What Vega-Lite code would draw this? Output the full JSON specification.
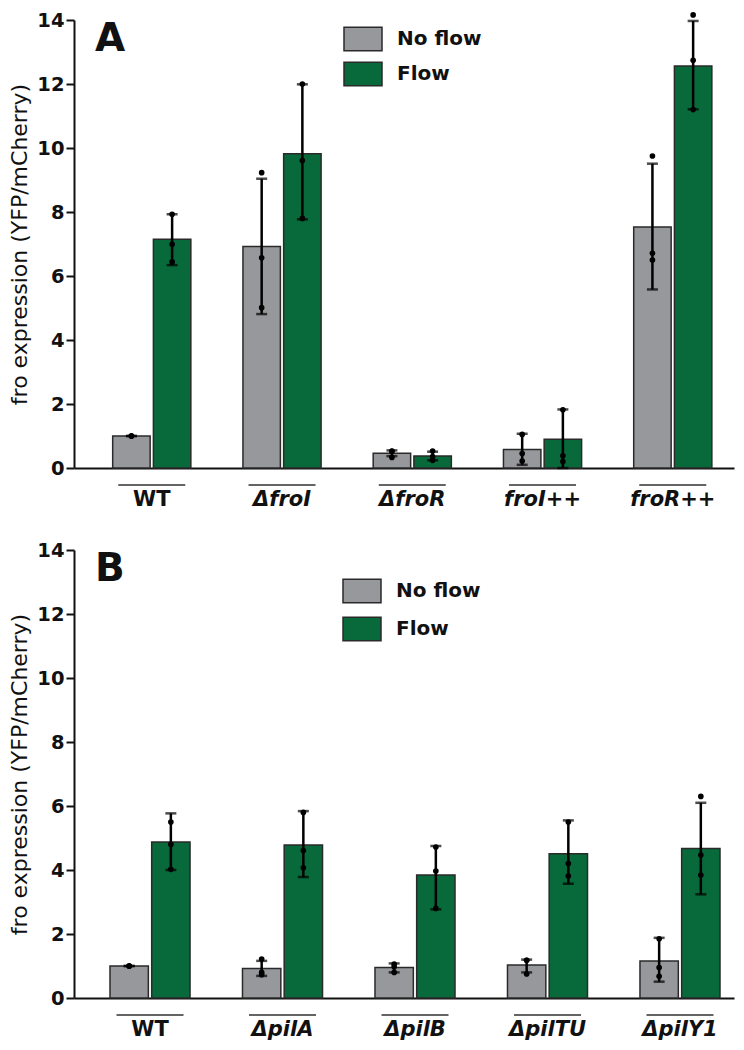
{
  "$schema": "https://vega.github.io/schema/vega-lite/v6.json",
  "background": "white",
  "padding": {"left": 8, "top": 10, "right": 5, "bottom": 5},
  "spacing": 31,
  "datasets": {
    "bars": [
      {"panel": "A", "strain": "WT", "cond": "No flow", "mean": 1.0, "lo": 1.0, "hi": 1.0},
      {"panel": "A", "strain": "WT", "cond": "Flow", "mean": 7.15, "lo": 6.34, "hi": 7.93},
      {"panel": "A", "strain": "ΔfroI", "cond": "No flow", "mean": 6.92, "lo": 4.81, "hi": 9.04},
      {"panel": "A", "strain": "ΔfroI", "cond": "Flow", "mean": 9.82, "lo": 7.77, "hi": 11.99},
      {"panel": "A", "strain": "ΔfroR", "cond": "No flow", "mean": 0.46, "lo": 0.37, "hi": 0.55},
      {"panel": "A", "strain": "ΔfroR", "cond": "Flow", "mean": 0.375, "lo": 0.24, "hi": 0.51},
      {"panel": "A", "strain": "froI++", "cond": "No flow", "mean": 0.58, "lo": 0.1, "hi": 1.07},
      {"panel": "A", "strain": "froI++", "cond": "Flow", "mean": 0.9, "lo": 0.0, "hi": 1.83},
      {"panel": "A", "strain": "froR++", "cond": "No flow", "mean": 7.53, "lo": 5.58, "hi": 9.51},
      {"panel": "A", "strain": "froR++", "cond": "Flow", "mean": 12.56, "lo": 11.21, "hi": 13.97},
      {"panel": "B", "strain": "WT", "cond": "No flow", "mean": 1.0, "lo": 1.0, "hi": 1.0},
      {"panel": "B", "strain": "WT", "cond": "Flow", "mean": 4.875, "lo": 4.0, "hi": 5.77},
      {"panel": "B", "strain": "ΔpilA", "cond": "No flow", "mean": 0.92, "lo": 0.69, "hi": 1.16},
      {"panel": "B", "strain": "ΔpilA", "cond": "Flow", "mean": 4.78, "lo": 3.78, "hi": 5.84},
      {"panel": "B", "strain": "ΔpilB", "cond": "No flow", "mean": 0.95, "lo": 0.8, "hi": 1.08},
      {"panel": "B", "strain": "ΔpilB", "cond": "Flow", "mean": 3.84, "lo": 2.77, "hi": 4.75},
      {"panel": "B", "strain": "ΔpilTU", "cond": "No flow", "mean": 1.03, "lo": 0.8, "hi": 1.2},
      {"panel": "B", "strain": "ΔpilTU", "cond": "Flow", "mean": 4.51, "lo": 3.57, "hi": 5.55},
      {"panel": "B", "strain": "ΔpilY1", "cond": "No flow", "mean": 1.16, "lo": 0.51, "hi": 1.88},
      {"panel": "B", "strain": "ΔpilY1", "cond": "Flow", "mean": 4.67, "lo": 3.24, "hi": 6.1}
    ],
    "points": [
      {"panel": "A", "strain": "WT", "cond": "No flow", "value": 1.0},
      {"panel": "A", "strain": "WT", "cond": "No flow", "value": 1.0},
      {"panel": "A", "strain": "WT", "cond": "No flow", "value": 1.0},
      {"panel": "A", "strain": "WT", "cond": "Flow", "value": 7.93},
      {"panel": "A", "strain": "WT", "cond": "Flow", "value": 6.99},
      {"panel": "A", "strain": "WT", "cond": "Flow", "value": 6.44},
      {"panel": "A", "strain": "ΔfroI", "cond": "No flow", "value": 9.23},
      {"panel": "A", "strain": "ΔfroI", "cond": "No flow", "value": 6.57},
      {"panel": "A", "strain": "ΔfroI", "cond": "No flow", "value": 5.01},
      {"panel": "A", "strain": "ΔfroI", "cond": "Flow", "value": 12.0},
      {"panel": "A", "strain": "ΔfroI", "cond": "Flow", "value": 9.61},
      {"panel": "A", "strain": "ΔfroI", "cond": "Flow", "value": 7.8},
      {"panel": "A", "strain": "ΔfroR", "cond": "No flow", "value": 0.53},
      {"panel": "A", "strain": "ΔfroR", "cond": "No flow", "value": 0.52},
      {"panel": "A", "strain": "ΔfroR", "cond": "No flow", "value": 0.33},
      {"panel": "A", "strain": "ΔfroR", "cond": "Flow", "value": 0.53},
      {"panel": "A", "strain": "ΔfroR", "cond": "Flow", "value": 0.36},
      {"panel": "A", "strain": "ΔfroR", "cond": "Flow", "value": 0.24},
      {"panel": "A", "strain": "froI++", "cond": "No flow", "value": 1.05},
      {"panel": "A", "strain": "froI++", "cond": "No flow", "value": 0.45},
      {"panel": "A", "strain": "froI++", "cond": "No flow", "value": 0.22},
      {"panel": "A", "strain": "froI++", "cond": "Flow", "value": 1.82},
      {"panel": "A", "strain": "froI++", "cond": "Flow", "value": 0.38},
      {"panel": "A", "strain": "froI++", "cond": "Flow", "value": 0.2},
      {"panel": "A", "strain": "froR++", "cond": "No flow", "value": 9.75},
      {"panel": "A", "strain": "froR++", "cond": "No flow", "value": 6.71},
      {"panel": "A", "strain": "froR++", "cond": "No flow", "value": 6.5},
      {"panel": "A", "strain": "froR++", "cond": "Flow", "value": 14.16},
      {"panel": "A", "strain": "froR++", "cond": "Flow", "value": 12.74},
      {"panel": "A", "strain": "froR++", "cond": "Flow", "value": 11.2},
      {"panel": "B", "strain": "WT", "cond": "No flow", "value": 1.0},
      {"panel": "B", "strain": "WT", "cond": "No flow", "value": 1.0},
      {"panel": "B", "strain": "WT", "cond": "No flow", "value": 1.0},
      {"panel": "B", "strain": "WT", "cond": "Flow", "value": 5.5},
      {"panel": "B", "strain": "WT", "cond": "Flow", "value": 4.8},
      {"panel": "B", "strain": "WT", "cond": "Flow", "value": 4.02},
      {"panel": "B", "strain": "ΔpilA", "cond": "No flow", "value": 1.22},
      {"panel": "B", "strain": "ΔpilA", "cond": "No flow", "value": 0.8},
      {"panel": "B", "strain": "ΔpilA", "cond": "No flow", "value": 0.73},
      {"panel": "B", "strain": "ΔpilA", "cond": "Flow", "value": 5.8},
      {"panel": "B", "strain": "ΔpilA", "cond": "Flow", "value": 4.61},
      {"panel": "B", "strain": "ΔpilA", "cond": "Flow", "value": 4.07},
      {"panel": "B", "strain": "ΔpilB", "cond": "No flow", "value": 1.06},
      {"panel": "B", "strain": "ΔpilB", "cond": "No flow", "value": 0.98},
      {"panel": "B", "strain": "ΔpilB", "cond": "No flow", "value": 0.8},
      {"panel": "B", "strain": "ΔpilB", "cond": "Flow", "value": 4.72},
      {"panel": "B", "strain": "ΔpilB", "cond": "Flow", "value": 3.97},
      {"panel": "B", "strain": "ΔpilB", "cond": "Flow", "value": 2.8},
      {"panel": "B", "strain": "ΔpilTU", "cond": "No flow", "value": 1.18},
      {"panel": "B", "strain": "ΔpilTU", "cond": "No flow", "value": 1.18},
      {"panel": "B", "strain": "ΔpilTU", "cond": "No flow", "value": 0.75},
      {"panel": "B", "strain": "ΔpilTU", "cond": "Flow", "value": 5.5},
      {"panel": "B", "strain": "ΔpilTU", "cond": "Flow", "value": 4.2},
      {"panel": "B", "strain": "ΔpilTU", "cond": "Flow", "value": 3.81},
      {"panel": "B", "strain": "ΔpilY1", "cond": "No flow", "value": 1.85},
      {"panel": "B", "strain": "ΔpilY1", "cond": "No flow", "value": 0.95},
      {"panel": "B", "strain": "ΔpilY1", "cond": "No flow", "value": 0.68},
      {"panel": "B", "strain": "ΔpilY1", "cond": "Flow", "value": 6.3},
      {"panel": "B", "strain": "ΔpilY1", "cond": "Flow", "value": 4.47},
      {"panel": "B", "strain": "ΔpilY1", "cond": "Flow", "value": 3.84}
    ]
  },
  "config": {
    "view": {"stroke": null},
    "font": "DejaVu Sans",
    "axis": {
      "grid": false,
      "domainColor": "#111111",
      "domainWidth": 2,
      "tickColor": "#111111",
      "tickWidth": 2,
      "labelColor": "#111111",
      "labelFont": "DejaVu Sans",
      "labelFontWeight": "bold",
      "titleColor": "#111111",
      "titleFont": "DejaVu Sans"
    },
    "axisY": {
      "tickSize": 8,
      "labelFontSize": 19.5,
      "labelPadding": 2,
      "titleFontSize": 22,
      "titleFontWeight": "normal",
      "titlePadding": 5
    },
    "axisX": {
      "title": null,
      "ticks": false,
      "tickSize": 0,
      "labelAngle": 0,
      "labelFontSize": 21,
      "labelPadding": 20,
      "labelFontStyle": {"condition": {"test": "datum.value === 'WT'", "value": "normal"}, "value": "italic"}
    },
    "legend": {
      "orient": "none",
      "title": null,
      "symbolType": "M-1,-0.62H1V0.62H-1Z",
      "symbolSize": 1444,
      "symbolStrokeColor": "#2a2a2a",
      "symbolStrokeWidth": 1.5,
      "labelFont": "DejaVu Sans",
      "labelFontWeight": "bold",
      "labelFontSize": 20,
      "labelColor": "#111111",
      "labelOffset": 14
    },
    "title": {"anchor": "start", "frame": "group", "font": "DejaVu Sans", "fontSize": 39, "fontWeight": "bold", "color": "#111111"}
  },
  "resolve": {"scale": {"x": "independent", "xOffset": "independent", "color": "independent", "y": "independent"}, "legend": {"color": "independent"}},
  "vconcat": [
    {
      "width": 660,
      "height": 448,
      "title": {"text": "A", "offset": -49, "dx": 21},
      "encoding": {
        "x": {"field": "strain", "type": "nominal", "sort": ["WT", "ΔfroI", "ΔfroR", "froI++", "froR++"], "scale": {"paddingInner": 0.4, "paddingOuter": 0.2335, "align": 0.636}}
      },
      "layer": [
        {
          "data": {"name": "bars"},
          "transform": [{"filter": "datum.panel === 'A'"}],
          "mark": {"type": "bar", "stroke": "#2a2a2a", "strokeWidth": 1.5},
          "encoding": {
            "xOffset": {"field": "cond", "type": "nominal", "sort": ["No flow", "Flow"], "scale": {"paddingInner": 0.08}},
            "y": {"field": "mean", "type": "quantitative", "title": "fro expression (YFP/mCherry)", "scale": {"domain": [0, 14], "nice": false}, "axis": {"values": [0, 2, 4, 6, 8, 10, 12, 14]}},
            "color": {"field": "cond", "type": "nominal", "sort": ["No flow", "Flow"], "scale": {"domain": ["No flow", "Flow"], "range": ["#97989c", "#086a3a"]}, "legend": {"legendX": 269, "legendY": -1, "rowPadding": -5}}
          }
        },
        {
          "data": {"name": "bars"},
          "transform": [{"filter": "datum.panel === 'A'"}],
          "mark": {"type": "rule", "color": "#000000", "strokeWidth": 2.5},
          "encoding": {
            "xOffset": {"field": "cond", "type": "nominal", "sort": ["No flow", "Flow"]},
            "y": {"field": "lo", "type": "quantitative", "title": "fro expression (YFP/mCherry)"},
            "y2": {"field": "hi"}
          }
        },
        {
          "data": {"name": "bars"},
          "transform": [{"filter": "datum.panel === 'A'"}],
          "mark": {"type": "tick", "color": "#000000", "thickness": 2.5, "size": 11},
          "encoding": {
            "xOffset": {"field": "cond", "type": "nominal", "sort": ["No flow", "Flow"]},
            "y": {"field": "lo", "type": "quantitative", "title": "fro expression (YFP/mCherry)"}
          }
        },
        {
          "data": {"name": "bars"},
          "transform": [{"filter": "datum.panel === 'A'"}],
          "mark": {"type": "tick", "color": "#000000", "thickness": 2.5, "size": 11},
          "encoding": {
            "xOffset": {"field": "cond", "type": "nominal", "sort": ["No flow", "Flow"]},
            "y": {"field": "hi", "type": "quantitative", "title": "fro expression (YFP/mCherry)"}
          }
        },
        {
          "data": {"name": "points"},
          "transform": [{"filter": "datum.panel === 'A'"}],
          "mark": {"type": "circle", "color": "#000000", "size": 32, "opacity": 1},
          "encoding": {
            "xOffset": {"field": "cond", "type": "nominal", "sort": ["No flow", "Flow"]},
            "y": {"field": "value", "type": "quantitative", "title": "fro expression (YFP/mCherry)"}
          }
        },
        {
          "data": {"name": "bars"},
          "transform": [{"filter": "datum.panel === 'A' && datum.cond === 'No flow'"}],
          "mark": {"type": "tick", "color": "#222222", "thickness": 2, "size": 67},
          "encoding": {
            "y": {"datum": -0.53, "type": "quantitative", "title": "fro expression (YFP/mCherry)"}
          }
        }
      ]
    },
    {
      "width": 660,
      "height": 448,
      "title": {"text": "B", "offset": -49, "dx": 21},
      "encoding": {
        "x": {"field": "strain", "type": "nominal", "sort": ["WT", "ΔpilA", "ΔpilB", "ΔpilTU", "ΔpilY1"], "scale": {"paddingInner": 0.396, "paddingOuter": 0.1887, "align": 0.72}}
      },
      "layer": [
        {
          "data": {"name": "bars"},
          "transform": [{"filter": "datum.panel === 'B'"}],
          "mark": {"type": "bar", "stroke": "#2a2a2a", "strokeWidth": 1.5},
          "encoding": {
            "xOffset": {"field": "cond", "type": "nominal", "sort": ["No flow", "Flow"], "scale": {"paddingInner": 0.08}},
            "y": {"field": "mean", "type": "quantitative", "title": "fro expression (YFP/mCherry)", "scale": {"domain": [0, 14], "nice": false}, "axis": {"values": [0, 2, 4, 6, 8, 10, 12, 14]}},
            "color": {"field": "cond", "type": "nominal", "sort": ["No flow", "Flow"], "scale": {"domain": ["No flow", "Flow"], "range": ["#97989c", "#086a3a"]}, "legend": {"legendX": 268, "legendY": 21, "rowPadding": 3}}
          }
        },
        {
          "data": {"name": "bars"},
          "transform": [{"filter": "datum.panel === 'B'"}],
          "mark": {"type": "rule", "color": "#000000", "strokeWidth": 2.5},
          "encoding": {
            "xOffset": {"field": "cond", "type": "nominal", "sort": ["No flow", "Flow"]},
            "y": {"field": "lo", "type": "quantitative", "title": "fro expression (YFP/mCherry)"},
            "y2": {"field": "hi"}
          }
        },
        {
          "data": {"name": "bars"},
          "transform": [{"filter": "datum.panel === 'B'"}],
          "mark": {"type": "tick", "color": "#000000", "thickness": 2.5, "size": 11},
          "encoding": {
            "xOffset": {"field": "cond", "type": "nominal", "sort": ["No flow", "Flow"]},
            "y": {"field": "lo", "type": "quantitative", "title": "fro expression (YFP/mCherry)"}
          }
        },
        {
          "data": {"name": "bars"},
          "transform": [{"filter": "datum.panel === 'B'"}],
          "mark": {"type": "tick", "color": "#000000", "thickness": 2.5, "size": 11},
          "encoding": {
            "xOffset": {"field": "cond", "type": "nominal", "sort": ["No flow", "Flow"]},
            "y": {"field": "hi", "type": "quantitative", "title": "fro expression (YFP/mCherry)"}
          }
        },
        {
          "data": {"name": "points"},
          "transform": [{"filter": "datum.panel === 'B'"}],
          "mark": {"type": "circle", "color": "#000000", "size": 32, "opacity": 1},
          "encoding": {
            "xOffset": {"field": "cond", "type": "nominal", "sort": ["No flow", "Flow"]},
            "y": {"field": "value", "type": "quantitative", "title": "fro expression (YFP/mCherry)"}
          }
        },
        {
          "data": {"name": "bars"},
          "transform": [{"filter": "datum.panel === 'B' && datum.cond === 'No flow'"}],
          "mark": {"type": "tick", "color": "#222222", "thickness": 2, "size": 67},
          "encoding": {
            "y": {"datum": -0.53, "type": "quantitative", "title": "fro expression (YFP/mCherry)"}
          }
        }
      ]
    }
  ]
}
